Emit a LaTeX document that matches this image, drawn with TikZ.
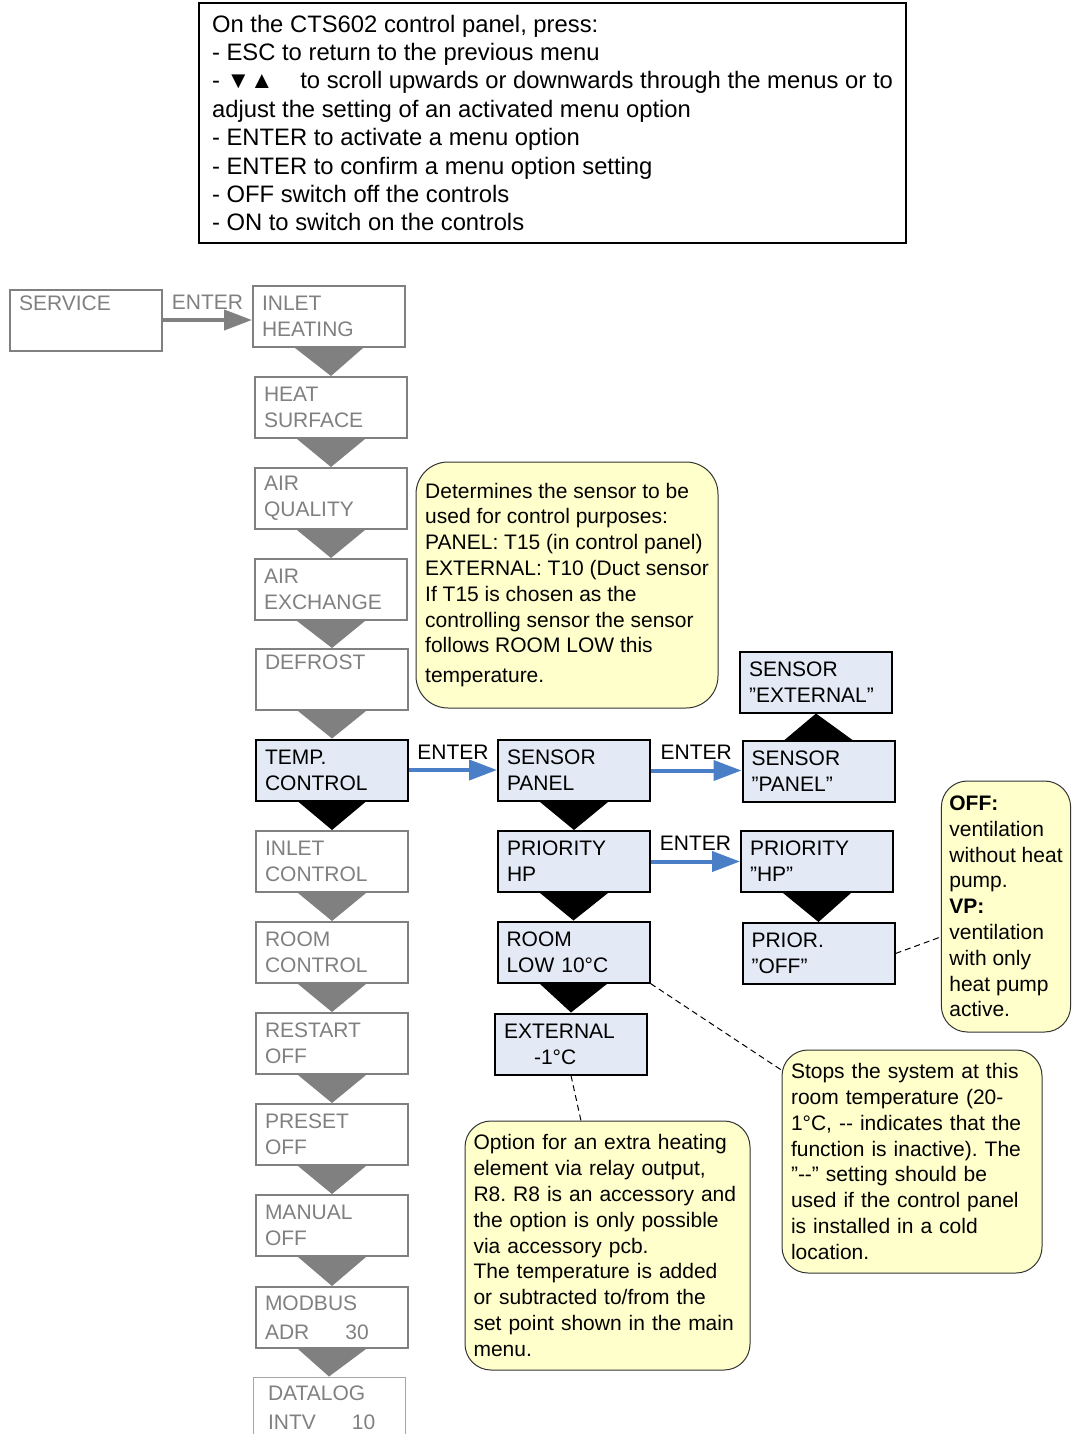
\documentclass[tikz,border=0pt]{standalone}
\usepackage{fontspec}
\setmainfont{Liberation Sans}
\usetikzlibrary{arrows.meta}
\definecolor{mgray}{HTML}{808080}
\definecolor{lblue}{HTML}{E3EAF5}
\definecolor{nyellow}{HTML}{FFFFCC}
\definecolor{eblue}{HTML}{4A7EC6}
\newcommand{\stepfill}[3][mgray]{\fill[#1] (#2) ++(-34,0) -- ++(68,0) -- (#3) -- cycle;}
\frenchspacing

\tikzset{
	menu/.style={draw, line width=1pt, minimum width=76pt, minimum height=30.5pt, text width=67pt, inner xsep=4.5pt, inner ysep=2pt, align=left, font=\fontsize{10.5}{13}\selectfont},
	dim/.style={menu, draw=mgray, text=mgray},
	sel/.style={menu, draw=black, fill=lblue},
	note/.style={draw=black!80, line width=0.5pt, fill=nyellow, rounded corners=13pt, align=left, inner xsep=4pt, font=\fontsize{10.5}{12.9}\selectfont},
	enter/.style={line width=2pt, -{Triangle[length=14pt,width=10pt]}},
	hint/.style={densely dashed, line width=0.5pt}
}

\begin{document}
\begin{tikzpicture}[x=0.5pt, y=-0.5pt, font=\fontsize{10.5}{13}\selectfont]
	\clip (0,0) rectangle (1072,1434);

	\node[draw, line width=1pt, minimum width=353.5pt, minimum height=120pt, align=left, font=\fontsize{11.9}{14.2}\selectfont] (keys) at (552.5,123) {On the CTS602 control panel, press:\\
		- ESC to return to the previous menu\\
		- ▼▲\hspace{10pt} to scroll upwards or downwards through the menus or to\\
		adjust the setting of an activated menu option\\
		- ENTER to activate a menu option\\
		- ENTER to confirm a menu option setting\\
		- OFF switch off the controls\\
		- ON to switch on the controls};

	% main menu
	\node[dim] (service) at (86,320) {SERVICE\\ \strut};
	\node[dim] (inheat) at (329,316.5) {INLET\\HEATING};
	\node[dim] (heatsurf) at (331,407.5) {HEAT\\SURFACE};
	\node[dim] (airq) at (331,498.5) {AIR\\QUALITY};
	\node[dim] (airex) at (331,589.5) {AIR\\EXCHANGE};
	\node[dim] (defrost) at (332,679.5) {DEFROST\\ \strut};
	\node[sel] (temp) at (332,770) {TEMP.\\CONTROL};
	\node[dim] (inctrl) at (332,861.5) {INLET\\CONTROL};
	\node[dim] (roomctrl) at (332,952.5) {ROOM\\CONTROL};
	\node[dim] (restart) at (332,1043.5) {RESTART\\OFF};
	\node[dim] (preset) at (332,1134.5) {PRESET\\OFF};
	\node[dim] (manual) at (332,1225.5) {MANUAL\\OFF};
	\node[dim, font=\fontsize{10.5}{14.5}\selectfont] (modbus) at (332,1317.5) {MODBUS\\ADR\hspace{18pt}30};
	\node[dim, line width=0.5pt, draw=mgray!70, inner xsep=7.5pt, text width=61pt, font=\fontsize{10.5}{14.5}\selectfont] (datalog) at (329,1407.5) {DATALOG\\INTV\hspace{18pt}10};

	% temp. control submenu
	\node[sel] (spanel) at (574,770.5) {SENSOR\\PANEL};
	\node[sel] (prihp) at (574,861.5) {PRIORITY\\HP};
	\node[sel] (roomlow) at (573.5,952) {ROOM\\LOW 10°C};
	\node[sel] (ext) at (571,1044) {EXTERNAL\\\hspace*{15pt}-1°C};

	\node[sel] (sext) at (816,682) {SENSOR\\”EXTERNAL”};
	\node[sel] (spanq) at (818.5,771.5) {SENSOR\\”PANEL”};
	\node[sel] (prihpq) at (817,861.5) {PRIORITY\\”HP”};
	\node[sel] (prioff) at (818.5,953.5) {PRIOR.\\”OFF”};

	\stepfill{inheat.south}{heatsurf.north}
	\stepfill{heatsurf.south}{airq.north}
	\stepfill{airq.south}{airex.north}
	\stepfill{airex.south}{defrost.north}
	\stepfill{defrost.south}{temp.north}
	\stepfill[black]{temp.south}{inctrl.north}
	\stepfill{inctrl.south}{roomctrl.north}
	\stepfill{roomctrl.south}{restart.north}
	\stepfill{restart.south}{preset.north}
	\stepfill{preset.south}{manual.north}
	\stepfill{manual.south}{modbus.north}
	\stepfill{modbus.south}{datalog.north}

	\stepfill[black]{spanel.south}{prihp.north}
	\stepfill[black]{prihp.south}{roomlow.north}
	\stepfill[black]{roomlow.south}{ext.north}
	\stepfill[black]{spanq.north}{sext.south}
	\stepfill[black]{prihpq.south}{prioff.north}

	\draw[enter, mgray] (service.east) -- node[above=1pt, text=mgray] {ENTER} (service.east -| inheat.west);
	\draw[enter, eblue] (temp.east) -- node[above=1pt, text=black] {ENTER} (temp.east -| spanel.west);
	\draw[enter, eblue] (spanel.east) -- node[above=1pt, text=black] {ENTER} (spanel.east -| spanq.west);
	\draw[enter, eblue] (prihp.east) -- node[above=1pt, text=black] {ENTER} (prihp.east -| prihpq.west);

	% notes
	\node[note, rounded corners=16pt, minimum width=151pt, minimum height=123pt] (note1) at (567,585) {Determines the sensor to be\\
		used for control purposes:\\
		PANEL: T15 (in control panel)\\
		EXTERNAL: T10 (Duct sensor\\
		If T15 is chosen as the\\
		controlling sensor the sensor\\
		follows ROOM LOW this\\[2pt]
		temperature.};
	\node[note, minimum width=64pt, minimum height=125.5pt] (note2) at (1006,906.5) {\textbf{OFF:}\\ventilation\\without heat\\pump.\\\textbf{VP:}\\ventilation\\with only\\heat pump\\active.};
	\node[note, minimum width=130pt, minimum height=111.5pt, text width=121pt, inner xsep=4.5pt] (note3) at (912,1161.5) {Stops the system at this\\
		room temperature (20-\\
		1°C, -{}- indicates that the\\
		function is inactive). The\\
		”-{}-” setting should be\\
		used if the control panel\\
		is installed in a cold\\
		location.};
	\node[note, minimum width=142.5pt, minimum height=124.5pt, text width=134pt, inner xsep=4.25pt] (note4) at (607.5,1245.5) {Option for an extra heating\\
		element via relay output,\\
		R8. R8 is an accessory and\\
		the option is only possible\\
		via accessory pcb.\\
		The temperature is added\\
		or subtracted to/from the\\
		set point shown in the main\\
		menu.};

	\draw[hint] (roomlow.south east) -- (note3.145.5);
	\draw[hint] (prioff.east) -- (note2.205.5);
	\draw[hint] (ext.south) -- (note4.102.5);
\end{tikzpicture}
\end{document}
